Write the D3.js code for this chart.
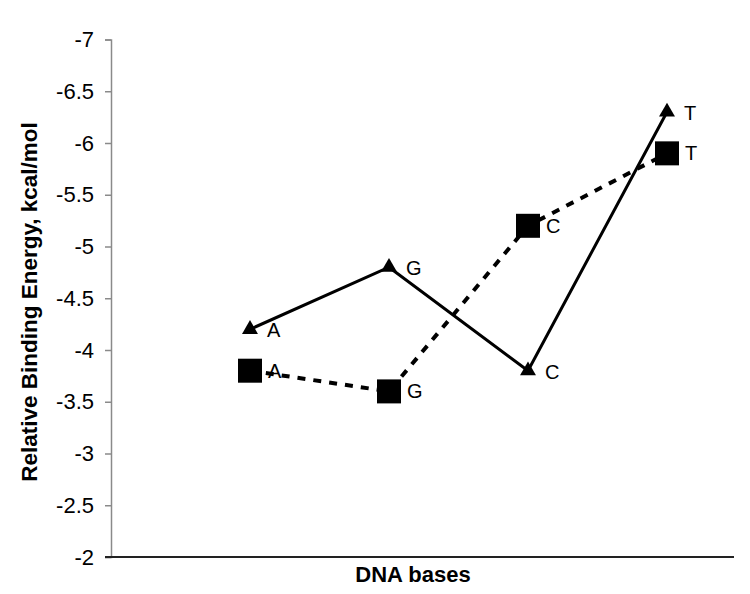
<!DOCTYPE html>
<html>
<head>
<meta charset="utf-8">
<script src="https://cdn.jsdelivr.net/npm/d3@7"></script>
<style>
  body { margin: 0; background: #fff; }
  svg { display: block; font-family: "Liberation Sans", Arial, sans-serif; }
</style>
</head>
<body>
<svg id="chart" width="750" height="594"></svg>
<script>
const categories = ["A", "G", "C", "T"];
const triangleSeries = [-4.2, -4.8, -3.8, -6.3];
const squareSeries = [-3.8, -3.6, -5.2, -5.9];
const yTicks = [-7, -6.5, -6, -5.5, -5, -4.5, -4, -3.5, -3, -2.5, -2];
const yTitle = "Relative Binding Energy, kcal/mol";
const xTitle = "DNA bases";

(function () {
const svg = d3.select("#chart");
const mLeft = 111, mRight = 734, mTop = 39.5, mBottom = 557;

const x = d3.scalePoint().domain(categories).range([250, 667]);
const y = d3.scaleLinear().domain([-2, -7]).range([mBottom, mTop]);

// y axis
const yAxis = d3.axisLeft(y).tickValues(yTicks).tickSize(6).tickPadding(11)
  .tickFormat(d => String(d));
const gy = svg.append("g").attr("transform", `translate(${mLeft},0)`).call(yAxis);
gy.select(".domain").attr("stroke", "#8a8a8a").attr("stroke-width", 1.5);
gy.selectAll(".tick line").attr("stroke", "#8a8a8a").attr("stroke-width", 1.5);
gy.selectAll(".tick text").attr("font-size", 22).attr("fill", "#000")
  .attr("font-family", "Liberation Sans, Arial, sans-serif");

// x axis line
svg.append("line").attr("x1", mLeft - 6).attr("x2", mRight)
  .attr("y1", mBottom).attr("y2", mBottom)
  .attr("stroke", "#222").attr("stroke-width", 2);

// titles
svg.append("text").attr("transform", `translate(37,302) rotate(-90)`)
  .attr("text-anchor", "middle").attr("font-size", 22.5).attr("font-weight", "bold")
  .text(yTitle);
svg.append("text").attr("x", 413).attr("y", 582)
  .attr("text-anchor", "middle").attr("font-size", 22).attr("font-weight", "bold")
  .text(xTitle);

const line = d3.line().x((d, i) => x(categories[i])).y(d => y(d));

// dashed (square) series
svg.append("path").datum(squareSeries).attr("d", line)
  .attr("fill", "none").attr("stroke", "#000").attr("stroke-width", 4)
  .attr("stroke-dasharray", "8,8");
// solid (triangle) series
svg.append("path").datum(triangleSeries).attr("d", line)
  .attr("fill", "none").attr("stroke", "#000").attr("stroke-width", 3);

// square markers
svg.selectAll(".sq").data(squareSeries).enter().append("rect")
  .attr("x", (d, i) => x(categories[i]) - 12).attr("y", d => y(d) - 12)
  .attr("width", 24).attr("height", 24).attr("fill", "#000");
// triangle markers
const tri = d3.symbol().type(d3.symbolTriangle).size(110);
svg.selectAll(".tri").data(triangleSeries).enter().append("path")
  .attr("d", tri)
  .attr("transform", (d, i) => `translate(${x(categories[i])},${y(d)})`)
  .attr("fill", "#000");

// labels
svg.selectAll(".tl").data(triangleSeries).enter().append("text")
  .attr("x", (d, i) => x(categories[i]) + 17).attr("y", d => y(d) + 8)
  .attr("font-size", 20).text((d, i) => categories[i]);
svg.selectAll(".sl").data(squareSeries).enter().append("text")
  .attr("x", (d, i) => x(categories[i]) + 18).attr("y", d => y(d) + 7)
  .attr("font-size", 20).text((d, i) => categories[i]);
})();
</script>
</body>
</html>
